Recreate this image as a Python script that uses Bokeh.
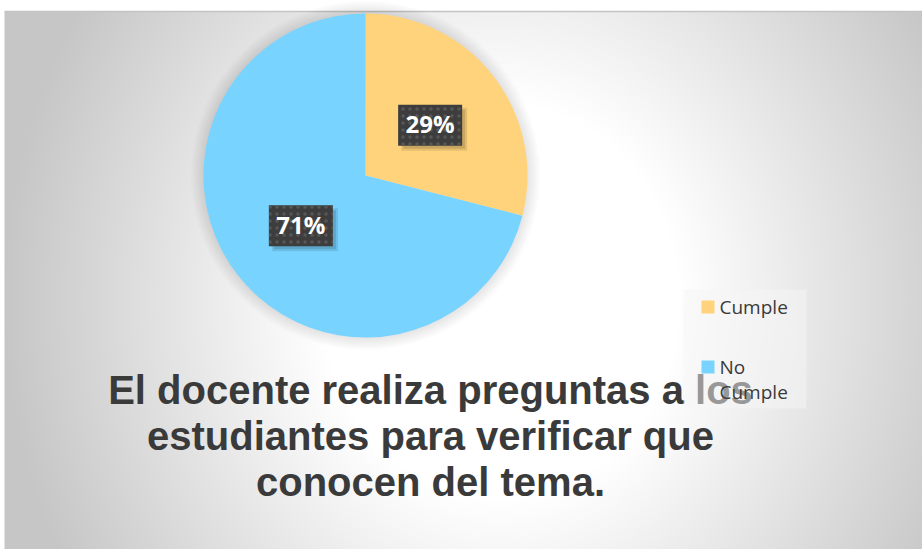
import numpy as np
from math import pi, cos, sin
from bokeh.plotting import figure
from bokeh.models import Range1d
from bokeh.core.properties import value
from bokeh.embed import file_html
from bokeh.resources import INLINE

# ---- data ----
categories = ["Cumple", "No Cumple"]
percentages = [29, 71]
slice_colors = ["#FFD37B", "#78D4FF"]
title_lines = [
    "El docente realiza preguntas a los",
    "estudiantes para verificar que",
    "conocen del tema.",
]

W, H = 922, 549
OX, OY = 0, 549  # screen -> figure: fx = sx - OX, fy = OY - sy

p = figure(width=W, height=H, x_range=Range1d(0, W), y_range=Range1d(0, H),
           output_backend="svg", toolbar_location=None, min_border=0)
p.axis.visible = False
p.grid.visible = False
p.outline_line_color = None
p.background_fill_color = "white"
p.border_fill_color = "white"

# ---- background radial gradient ----
BX0 = 4
BH = OY - 11
BW = W - BX0
jj, ii = np.mgrid[0:BH, 0:BW]
sx = ii + BX0 + OX + 0.5
sy = OY - (jj + 0.5)
gcx, gcy = 500.0, 300.0
d = np.sqrt((sx - gcx) ** 2 + (0.9 * (sy - gcy)) ** 2)
b = (255 - 57 * np.clip((d - 180) / 320, 0, 1)).astype(np.uint8)
img = np.empty((BH, BW), dtype=np.uint32)
view = img.view(dtype=np.uint8).reshape((BH, BW, 4))
view[..., 0] = b
view[..., 1] = b
view[..., 2] = b
view[..., 3] = 255
p.image_rgba(image=[img], x=BX0, y=0, dw=BW, dh=BH)
p.segment(x0=[BX0], y0=[BH], x1=[W], y1=[BH], line_color="#c4c4c4", line_width=1.5)

# ---- pie ----
pcx, pcy, R = 365 - OX, OY - 175, 162
for k in range(1, 14):
    p.circle(x=[pcx], y=[pcy], radius=R + k, fill_color="black",
             fill_alpha=0.009, line_color=None)

total = float(sum(percentages))
cum = 0.0
starts, ends, mids = [], [], []
for v in percentages:
    a_end = pi / 2 - 2 * pi * cum / total
    cum += v
    a_start = pi / 2 - 2 * pi * cum / total
    starts.append(a_start)
    ends.append(a_end)
    mids.append((a_start + a_end) / 2)

p.wedge(x=[pcx] * len(percentages), y=[pcy] * len(percentages), radius=R,
        start_angle=starts, end_angle=ends, direction="anticlock",
        fill_color=slice_colors, line_color=None)

lx = [pcx + 0.505 * R * cos(m) for m in mids]
ly = [pcy + 0.505 * R * sin(m) for m in mids]
labels = [f"{v}%" for v in percentages]

for dx, dy, w, h, a in [(4, -4, 66, 43, 0.10), (4, -4, 62, 39, 0.12)]:
    p.rect(x=[x + dx for x in lx], y=[y + dy for y in ly], width=w, height=h,
           fill_color="black", fill_alpha=a, line_color=None)
p.rect(x=lx, y=ly, width=64, height=41, fill_color="#3d3d3d", line_color=None,
       hatch_pattern=".", hatch_color="#575757", hatch_scale=7, hatch_weight=1.5)
p.text(x=lx, y=[y + 1.5 for y in ly], text=labels, text_align="center",
       text_baseline="middle", text_color="white", text_font=value("Open Sans"),
       text_font_style="bold", text_font_size="24px")

# ---- title ----
p.text(x=[430 - OX] * 3, y=[OY - 389, OY - 435, OY - 481], text=title_lines,
       text_align="center", text_baseline="middle", text_color="#3a3a3a",
       text_font=value("Liberation Sans"), text_font_style="bold",
       text_font_size="40px")

# ---- legend ----
p.quad(left=[683 - OX], right=[806 - OX], top=[OY - 289], bottom=[OY - 408],
       fill_color="#f6f6f6", fill_alpha=0.5, line_color=None)
sq_y = [OY - 306.5, OY - 366.5]
p.rect(x=[707.5 - OX] * 2, y=sq_y, width=13, height=13,
       fill_color=slice_colors, line_color=None)
tx, ty, tt = [], [], []
for cat, mid in zip(categories, [OY - 306, OY - 366]):
    lines = cat.split(" ") if len(cat) > 8 else [cat]
    for n, line in enumerate(lines):
        tx.append(719 - OX)
        ty.append(mid - 25.5 * n)
        tt.append(line)
p.text(x=tx, y=ty, text=tt, text_align="left", text_baseline="middle",
       text_color="#3a3a3a", text_font=value("Open Sans"), text_font_size="19px")

open("out.html", "w").write(file_html(p, INLINE))
